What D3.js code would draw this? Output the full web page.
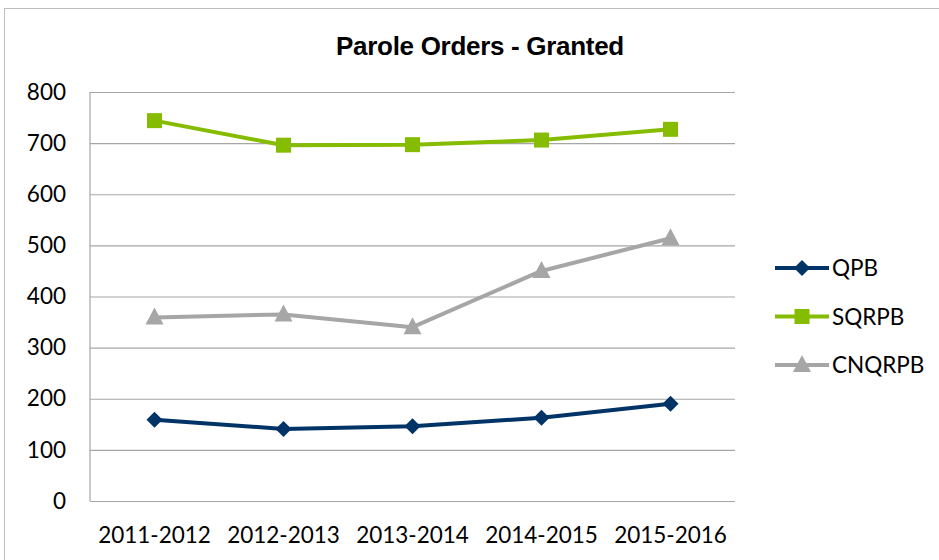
<!DOCTYPE html>
<html>
<head>
<meta charset="utf-8">
<script src="https://cdn.jsdelivr.net/npm/d3@7"></script>
<style>
  body { margin: 0; background: #fff; }
  svg text { fill: #000; }
</style>
</head>
<body>
<div id="chart"></div>
<script>
// Chart data
const years = ["2011-2012", "2012-2013", "2013-2014", "2014-2015", "2015-2016"];
const qpb = [159, 141, 146, 163, 190];
const sqrpb = [744, 696, 697, 706, 727];
const cnqrpb = [359, 365, 340, 450, 514];
const yTicks = [0, 100, 200, 300, 400, 500, 600, 700, 800];

const series = [
  { name: "QPB", values: qpb, color: "#003366", marker: "diamond" },
  { name: "SQRPB", values: sqrpb, color: "#86bc00", marker: "square" },
  { name: "CNQRPB", values: cnqrpb, color: "#a6a6a6", marker: "triangle" }
];

const width = 939, height = 560;
const plot = { left: 90, right: 735, top: 92, bottom: 501 };

const svg = d3.select("#chart")
  .append("svg")
  .attr("width", width)
  .attr("height", height);

// outer chart frame
svg.append("rect")
  .attr("x", 4.5).attr("y", 8.5)
  .attr("width", 950).attr("height", 600)
  .attr("fill", "none")
  .attr("stroke", "#bfbfbf");

svg.append("text")
  .attr("x", 480).attr("y", 55)
  .attr("text-anchor", "middle")
  .style("font-family", "'Liberation Sans', Arial, sans-serif")
  .style("font-weight", "bold")
  .style("font-size", "26px")
  .style("letter-spacing", "-0.3px")
  .text("Parole Orders - Granted");

const x = d3.scaleBand().domain(years).range([plot.left, plot.right]);
const y = d3.scaleLinear().domain([0, 800]).range([plot.bottom, plot.top]);

const tickFont = "Lato, 'Open Sans', sans-serif";

// gridlines + y labels
const yAxis = svg.append("g")
  .attr("transform", `translate(${plot.left},0)`)
  .call(d3.axisLeft(y).tickValues(yTicks).tickSize(-(plot.right - plot.left)).tickPadding(24));
yAxis.select(".domain").remove();
yAxis.selectAll(".tick line").attr("stroke", "#a6a6a6").attr("stroke-width", 1.2);
yAxis.selectAll(".tick text")
  .style("font-family", tickFont)
  .style("font-size", "22.5px")
  .attr("fill", "#000");

// left axis line
svg.append("line")
  .attr("x1", plot.left).attr("x2", plot.left)
  .attr("y1", plot.top).attr("y2", plot.bottom)
  .attr("stroke", "#a6a6a6").attr("stroke-width", 1.2);

// x labels
const xAxis = svg.append("g")
  .attr("transform", `translate(0,${plot.bottom})`)
  .call(d3.axisBottom(x).tickSize(0).tickPadding(26));
xAxis.select(".domain").remove();
xAxis.selectAll(".tick text")
  .style("font-family", tickFont)
  .style("font-size", "22.5px")
  .attr("fill", "#000");

const cx = d => x(d) + x.bandwidth() / 2;

function markerPath(type) {
  if (type === "diamond") return "M0,-8L8,0L0,8L-8,0Z";
  if (type === "square") return "M-7.5,-7.5H7.5V7.5H-7.5Z";
  return "M0,-10L9,7H-9Z";
}

const line = d3.line()
  .x((d, i) => cx(years[i]))
  .y(d => y(d));

series.forEach(s => {
  svg.append("path")
    .datum(s.values)
    .attr("d", line)
    .attr("fill", "none")
    .attr("stroke", s.color)
    .attr("stroke-width", 4)
    .attr("stroke-linejoin", "round");

  svg.selectAll(null)
    .data(s.values)
    .enter()
    .append("path")
    .attr("d", markerPath(s.marker))
    .attr("transform", (d, i) => `translate(${cx(years[i])},${y(d)})`)
    .attr("fill", s.color);
});

// Legend
const legend = svg.append("g").attr("transform", "translate(775,268)");
series.forEach((s, i) => {
  const g = legend.append("g").attr("transform", `translate(0,${i * 48.5})`);
  g.append("line")
    .attr("x1", 0).attr("x2", 54)
    .attr("stroke", s.color).attr("stroke-width", 4);
  g.append("path")
    .attr("d", markerPath(s.marker))
    .attr("transform", "translate(27,0)")
    .attr("fill", s.color);
  g.append("text")
    .attr("x", 57).attr("y", 0)
    .attr("dy", "0.36em")
    .style("font-family", tickFont)
    .style("font-size", "22.5px")
    .text(s.name);
});
</script>
</body>
</html>
